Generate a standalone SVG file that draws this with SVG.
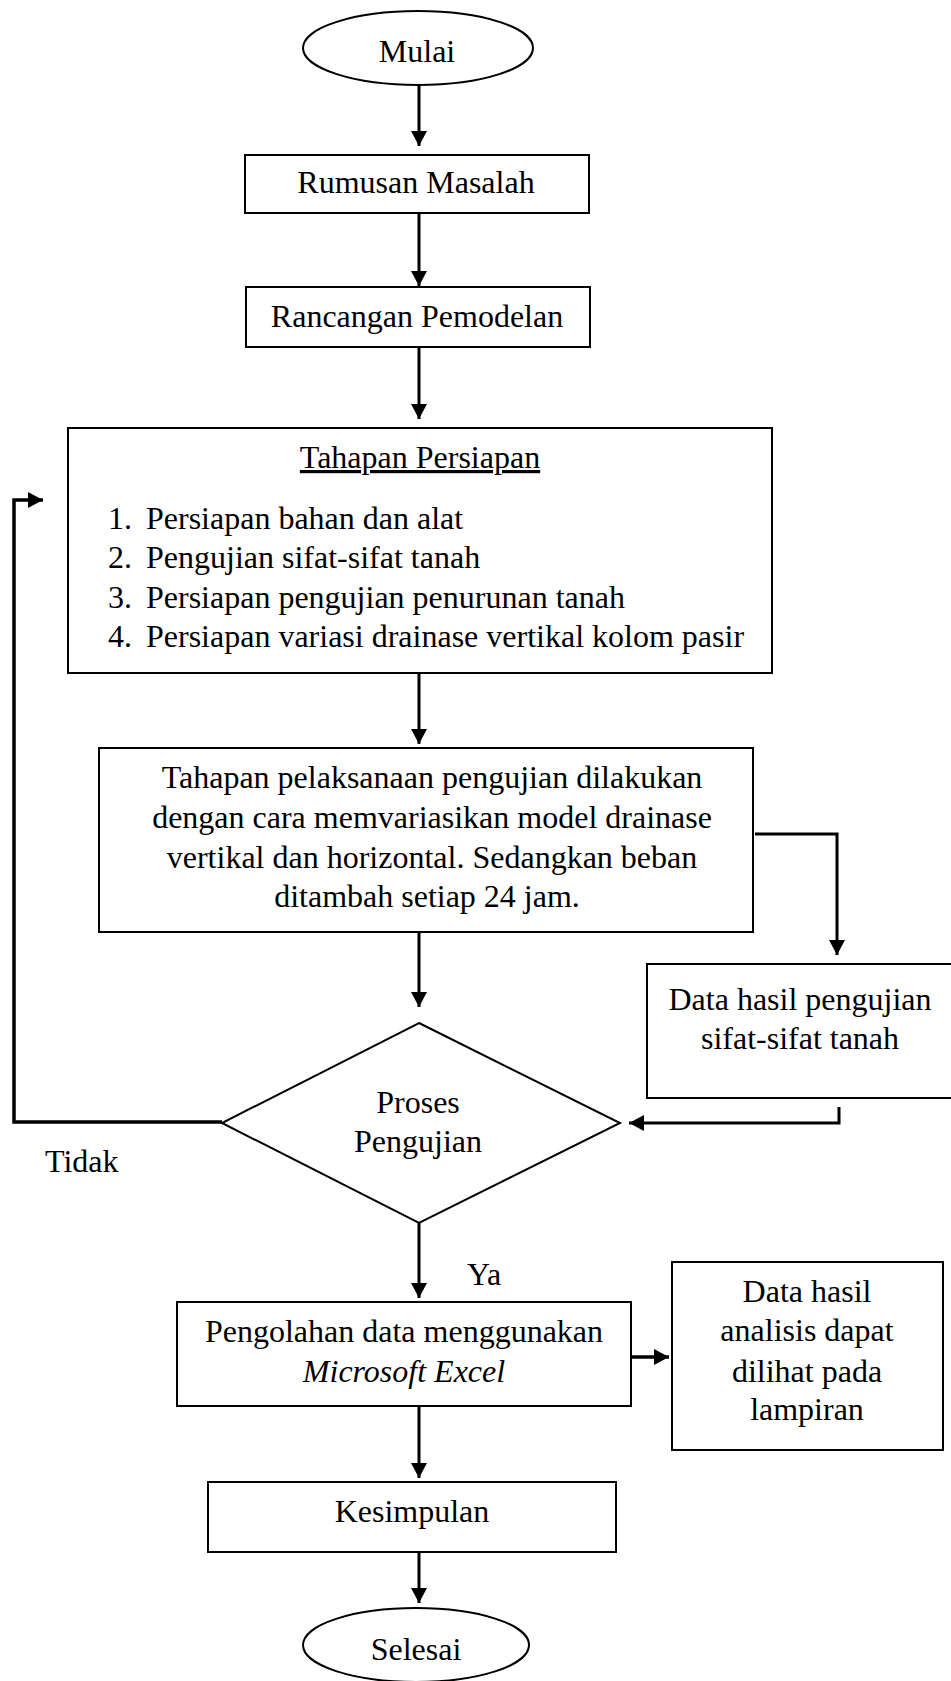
<svg xmlns="http://www.w3.org/2000/svg" width="951" height="1681" viewBox="0 0 951 1681">
<style>
.shape{fill:#fff;stroke:#000;stroke-width:2}
text{font-family:'Liberation Serif',serif;font-size:32px;fill:#000}
.c{text-anchor:middle}
.conn{fill:none;stroke:#000;stroke-width:3}
.thick{stroke-width:3.5}
</style>
<defs>
<marker id="ah" markerUnits="userSpaceOnUse" markerWidth="16" markerHeight="16" refX="15" refY="8" orient="auto">
<path d="M0,0 L15,8 L0,16 z" fill="#000"/>
</marker>
</defs>
<rect width="951" height="1681" fill="#fff"/>

<g id="mulai">
<ellipse class="shape" cx="418" cy="48" rx="115" ry="37"/>
<text class="c" x="417" y="62" font-family="Liberation Serif, serif">Mulai</text>
</g>
<g id="rumusan">
<rect class="shape" x="245" y="155" width="344" height="58"/>
<text class="c" x="416" y="193">Rumusan Masalah</text>
</g>
<g id="rancangan">
<rect class="shape" x="246" y="287" width="344" height="60"/>
<text class="c" x="417" y="327">Rancangan Pemodelan</text>
</g>
<g id="persiapan">
<rect class="shape" x="68" y="428" width="704" height="245"/>
<text class="c" x="420" y="468" text-decoration="underline">Tahapan Persiapan</text>
<text x="108" y="529">1.</text>
<text x="146" y="529">Persiapan bahan dan alat</text>
<text x="108" y="568">2.</text>
<text x="146" y="568">Pengujian sifat-sifat tanah</text>
<text x="108" y="608">3.</text>
<text x="146" y="608">Persiapan pengujian penurunan tanah</text>
<text x="108" y="647">4.</text>
<text x="146" y="647">Persiapan variasi drainase vertikal kolom pasir</text>
</g>
<g id="pelaksanaan">
<rect class="shape" x="99" y="748" width="654" height="184"/>
<text class="c" x="432" y="788">Tahapan pelaksanaan pengujian dilakukan</text>
<text class="c" x="432" y="828">dengan cara memvariasikan model drainase</text>
<text class="c" x="432" y="868">vertikal dan horizontal. Sedangkan beban</text>
<text class="c" x="427" y="907">ditambah setiap 24 jam.</text>
</g>
<g id="data-uji">
<rect class="shape" x="647" y="964" width="320" height="134"/>
<text class="c" x="800" y="1010">Data hasil pengujian</text>
<text class="c" x="800" y="1049">sifat-sifat tanah</text>
</g>
<g id="proses">
<polygon class="shape" points="419,1023 620,1123 419,1223 222,1123"/>
<text class="c" x="418" y="1113">Proses</text>
<text class="c" x="418" y="1152">Pengujian</text>
</g>
<g id="pengolahan">
<rect class="shape" x="177" y="1302" width="454" height="104"/>
<text class="c" x="404" y="1342">Pengolahan data menggunakan</text>
<text class="c" x="404" y="1382" font-style="italic">Microsoft Excel</text>
</g>
<g id="analisis">
<rect class="shape" x="672" y="1262" width="271" height="188"/>
<text class="c" x="807" y="1302">Data hasil</text>
<text class="c" x="807" y="1341">analisis dapat</text>
<text class="c" x="807" y="1382">dilihat pada</text>
<text class="c" x="807" y="1420">lampiran</text>
</g>
<g id="kesimpulan">
<rect class="shape" x="208" y="1482" width="408" height="70"/>
<text class="c" x="412" y="1522">Kesimpulan</text>
</g>
<g id="selesai">
<ellipse class="shape" cx="416" cy="1645" rx="113" ry="37"/>
<text class="c" x="416" y="1660">Selesai</text>
</g>

<g id="connectors">
<path class="conn" d="M419,85 V146" marker-end="url(#ah)"/>
<path class="conn" d="M419,213 V286" marker-end="url(#ah)"/>
<path class="conn" d="M419,347 V419" marker-end="url(#ah)"/>
<path class="conn" d="M419,673 V744" marker-end="url(#ah)"/>
<path class="conn" d="M419,932 V1007" marker-end="url(#ah)"/>
<path class="conn" d="M755,834 H837 V955" marker-end="url(#ah)"/>
<path class="conn" d="M839,1107 V1123 H629" marker-end="url(#ah)"/>
<path class="conn thick" d="M222,1122 H14 V500 H43" marker-end="url(#ah)"/>
<path class="conn" d="M419,1223 V1298" marker-end="url(#ah)"/>
<path class="conn thick" d="M631,1357 H669" marker-end="url(#ah)"/>
<path class="conn" d="M419,1406 V1478" marker-end="url(#ah)"/>
<path class="conn" d="M419,1552 V1603" marker-end="url(#ah)"/>
<text x="45" y="1172">Tidak</text>
<text x="467" y="1285">Ya</text>
</g>
</svg>
